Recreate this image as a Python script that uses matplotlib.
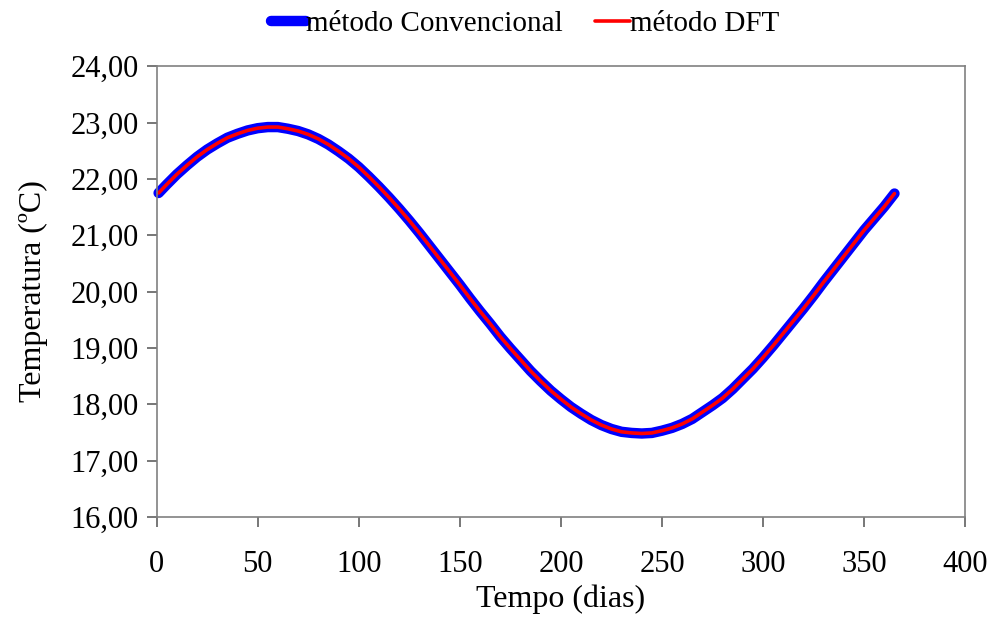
import matplotlib
matplotlib.use('Agg')
import matplotlib.pyplot as plt
from matplotlib.ticker import FuncFormatter

# dias e temperaturas
dias = [1, 5, 10, 15, 20, 25, 30, 35, 40, 45, 50, 55, 60, 65, 70, 75, 80, 85,
        90, 95, 100, 105, 110, 115, 120, 125, 130, 135, 140, 145, 150, 155,
        160, 165, 170, 175, 180, 185, 190, 195, 200, 205, 210, 215, 220, 225,
        230, 235, 240, 245, 250, 255, 260, 265, 270, 275, 280, 285, 290, 295,
        300, 305, 310, 315, 320, 325, 330, 335, 340, 345, 350, 355, 360, 365]
temp_conv = [21.75, 21.90, 22.08, 22.24, 22.39, 22.52, 22.63, 22.73, 22.80, 22.86,
             22.90, 22.92, 22.92, 22.89, 22.85, 22.79, 22.71, 22.61, 22.49, 22.36,
             22.21, 22.04, 21.86, 21.67, 21.47, 21.26, 21.04, 20.81, 20.58, 20.35,
             20.12, 19.88, 19.65, 19.43, 19.20, 18.99, 18.79, 18.59, 18.41, 18.24,
             18.09, 17.95, 17.83, 17.72, 17.63, 17.56, 17.51, 17.49, 17.48, 17.49,
             17.53, 17.58, 17.65, 17.74, 17.86, 17.98, 18.11, 18.27, 18.45, 18.63,
             18.83, 19.04, 19.26, 19.48, 19.70, 19.93, 20.17, 20.40, 20.63, 20.86,
             21.09, 21.30, 21.51, 21.74]
temp_dft = [21.75, 21.90, 22.08, 22.24, 22.39, 22.52, 22.63, 22.73, 22.80, 22.86,
            22.90, 22.92, 22.92, 22.89, 22.85, 22.79, 22.71, 22.61, 22.49, 22.36,
            22.21, 22.04, 21.86, 21.67, 21.47, 21.26, 21.04, 20.81, 20.58, 20.35,
            20.12, 19.88, 19.65, 19.43, 19.20, 18.99, 18.79, 18.59, 18.41, 18.24,
            18.09, 17.95, 17.83, 17.72, 17.63, 17.56, 17.51, 17.49, 17.48, 17.49,
            17.53, 17.58, 17.65, 17.74, 17.86, 17.98, 18.11, 18.27, 18.45, 18.63,
            18.83, 19.04, 19.26, 19.48, 19.70, 19.93, 20.17, 20.40, 20.63, 20.86,
            21.09, 21.30, 21.51, 21.74]

plt.rcParams['font.family'] = ['Liberation Serif', 'DejaVu Serif']

fig = plt.figure(figsize=(9.91, 6.19), dpi=100)
ax = fig.add_axes([0.158, 0.165, 0.816, 0.728])

ax.plot(dias, temp_conv, color='blue', lw=7.5, solid_capstyle='round',
        solid_joinstyle='round', label='método Convencional', clip_on=False)
ax.plot(dias, temp_dft, color='red', lw=2.6, solid_capstyle='round',
        solid_joinstyle='round', label='método DFT', clip_on=False)

ax.set_xlim(0, 400)
ax.set_ylim(16, 24)
ax.set_xticks(range(0, 401, 50))
ax.set_yticks(range(16, 25))
ax.yaxis.set_major_formatter(FuncFormatter(lambda v, p: f'{v:.2f}'.replace('.', ',')))

for s in ax.spines.values():
    s.set_color('#808080')
    s.set_linewidth(1.2)
ax.tick_params(direction='out', length=7, width=1.2, color='#606060',
               labelsize=22, pad=6)
ax.tick_params(axis='x', pad=17)

ax.set_xlabel('Tempo (dias)', fontsize=23, labelpad=4)
ax.set_ylabel('Temperatura (ºC)', fontsize=23, labelpad=16)

fig.legend(loc='upper center', bbox_to_anchor=(0.53, 1.025), ncol=2,
           frameon=False, fontsize=21, handlelength=1.2, handletextpad=0.0,
           columnspacing=1.1)

fig.savefig('out.png', dpi=100)
